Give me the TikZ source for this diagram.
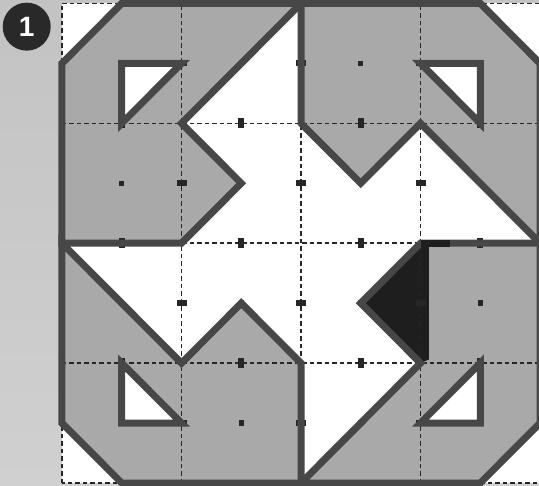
\documentclass[tikz,border=0pt]{standalone}
\usepackage{fontspec}
\newfontfamily\badgefont{Liberation Sans}
\definecolor{shapegrey}{HTML}{A9A9A9}
\definecolor{outlinegrey}{HTML}{474747}
\definecolor{darkfill}{HTML}{1E1E1E}
\definecolor{bgtop}{HTML}{C3C3C3}
\definecolor{bgbot}{HTML}{D0D0D0}
\definecolor{markc}{HTML}{262626}
\begin{document}
\begin{tikzpicture}[x=119.5pt,y=119.9pt,
  outline/.style={draw=outlinegrey,line width=7pt,line join=miter},
  gridline/.style={draw=black!85,line width=1.5pt,dash pattern=on 4.5pt off 3pt},
  piece/.style={fill=shapegrey},
  hole/.style={fill=white}]
% background and bounding box
\shade[top color=bgtop,bottom color=bgbot] (-0.5188,-0.01668) rectangle (3.9916,4.0284);
\useasboundingbox (-0.5188,-0.01668) rectangle (3.9916,4.0284);
\fill[white] (0,0) rectangle (4,4);
% grey pieces
\fill[piece] (0.5,4)--(2,4)--(1,3)--(1.5,2.5)--(1,2)--(0,2)--(0,3.5)--cycle;
\fill[piece] (4,3.5)--(4,2)--(3,3)--(2.5,2.5)--(2,3)--(2,4)--(3.5,4)--cycle;
\fill[piece] (3.5,0)--(2,0)--(3,1)--(2.5,1.5)--(3,2)--(4,2)--(4,0.5)--cycle;
\fill[piece] (0,0.5)--(0,2)--(1,1)--(1.5,1.5)--(2,1)--(2,0)--(0.5,0)--cycle;
% dark shaded triangle
\fill[darkfill] (2.5,1.5)--(3,2)--(3.07,2)--(3.07,1.03)--(3,1)--cycle;
% small white triangles
\fill[hole] (0.5,3.5)--(1,3.5)--(0.5,3)--cycle;
\fill[hole] (3.5,3.5)--(3.5,3)--(3,3.5)--cycle;
\fill[hole] (3.5,0.5)--(3,0.5)--(3.5,1)--cycle;
\fill[hole] (0.5,0.5)--(0.5,1)--(1,0.5)--cycle;
% dashed grid
\foreach \k in {1,2,3}{
  \draw[gridline] (\k,0)--(\k,4);
  \draw[gridline] (0,\k)--(4,\k);
}
\draw[gridline] (0,0) rectangle (4,4);
% marks on grid lines and at cell centres
\foreach \k in {1,2,3}{
  \foreach \j in {0.5,1.5,2.5,3.5}{
    \fill[markc] (\k,\j) ++(-5pt,-3pt) rectangle ++(10pt,6pt);
    \fill[markc] (\j,\k) ++(-3pt,-5pt) rectangle ++(6pt,10pt);
  }
}
\foreach \i in {0.5,1.5,2.5,3.5}{
  \foreach \j in {0.5,1.5,2.5,3.5}{
    \fill[markc] (\i,\j) ++(-2.7pt,-2.7pt) rectangle ++(5.4pt,5.4pt);
  }
}
% outlines
\draw[outline] (0.5,4)--(2,4)--(1,3)--(1.5,2.5)--(1,2)--(0,2)--(0,3.5)--cycle;
\draw[outline] (4,3.5)--(4,2)--(3,3)--(2.5,2.5)--(2,3)--(2,4)--(3.5,4)--cycle;
\draw[outline] (3.5,0)--(2,0)--(3,1)--(2.5,1.5)--(3,2)--(4,2)--(4,0.5)--cycle;
\draw[outline] (0,0.5)--(0,2)--(1,1)--(1.5,1.5)--(2,1)--(2,0)--(0.5,0)--cycle;
\draw[outline] (0.5,3.5)--(1,3.5)--(0.5,3)--cycle;
\draw[outline] (3.5,3.5)--(3.5,3)--(3,3.5)--cycle;
\draw[outline] (3.5,0.5)--(3,0.5)--(3.5,1)--cycle;
\draw[outline] (0.5,0.5)--(0.5,1)--(1,0.5)--cycle;
\draw[darkfill,line width=7pt] (3,2)--(3.25,2);
% badge
\node[circle,fill=black!84,minimum size=48pt,inner sep=0pt,text=white,
  font=\badgefont\bfseries\fontsize{28}{28}\selectfont] (badge) at (-0.2954,3.806) {1};
\end{tikzpicture}
\end{document}
